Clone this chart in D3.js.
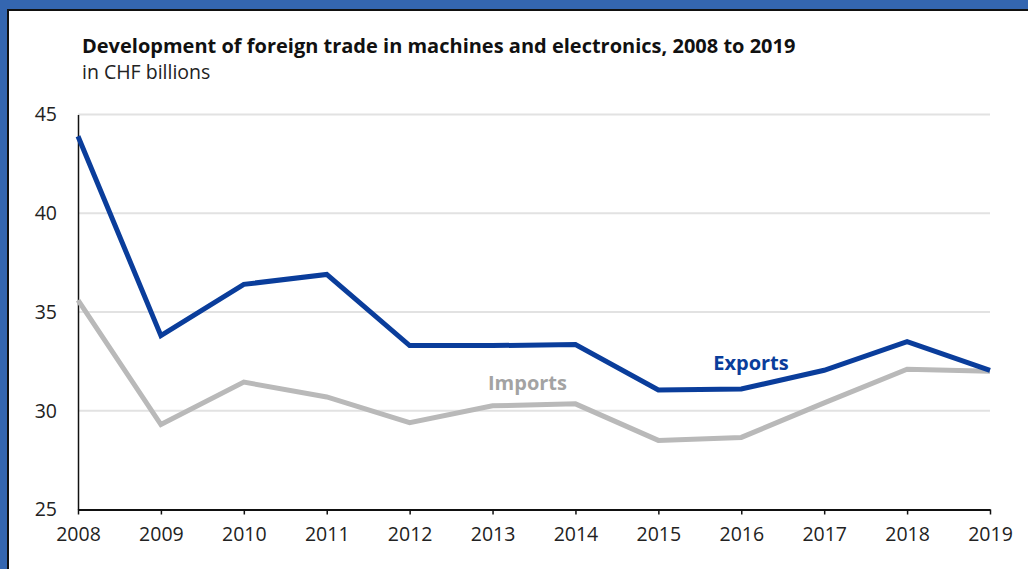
<!DOCTYPE html>
<html>
<head>
<meta charset="utf-8">
<script src="https://cdn.jsdelivr.net/npm/d3@7"></script>
<style>
  html, body { margin: 0; padding: 0; background: #fff; }
  svg { display: block; }
  text { font-family: "Open Sans", "Noto Sans", sans-serif; }
</style>
</head>
<body>
<svg id="chart" width="1028" height="569"></svg>
<script>
// Foreign trade in machines and electronics, CHF billions
const years = [2008, 2009, 2010, 2011, 2012, 2013, 2014, 2015, 2016, 2017, 2018, 2019];
const exportsValues = [43.9, 33.8, 36.4, 36.9, 33.3, 33.3, 33.35, 31.05, 31.1, 32.05, 33.5, 32.05];
const importsValues = [35.6, 29.3, 31.45, 30.7, 29.4, 30.25, 30.35, 28.5, 28.65, 30.4, 32.1, 32.0];
const yTicks = [25, 30, 35, 40, 45];
const titleText = "Development of foreign trade in machines and electronics, 2008 to 2019";
const subtitleText = "in CHF billions";

const svg = d3.select("#chart");
const W = 1028, H = 569;
const FONT = "\"Open Sans\", \"Noto Sans\", sans-serif";

// Frame: blue band with a thin dark inner edge
svg.append("rect").attr("x", 0).attr("y", 0).attr("width", W).attr("height", H).attr("fill", "#3466b0");
svg.append("rect").attr("x", 7).attr("y", 9).attr("width", W).attr("height", H).attr("fill", "#111");
svg.append("rect").attr("x", 9).attr("y", 11).attr("width", W).attr("height", H).attr("fill", "#fff");

const x = d3.scaleLinear().domain([2008, 2019]).range([78, 990]);
const y = d3.scaleLinear().domain([25, 45]).range([509.5, 114.5]);

// Title block
svg.append("text").attr("x", 82).attr("y", 53)
  .attr("font-size", 20).attr("font-weight", 700).attr("fill", "#111")
  .text(titleText);
svg.append("text").attr("x", 82).attr("y", 79)
  .attr("font-size", 19.5).attr("fill", "#222")
  .text(subtitleText);

// Horizontal gridlines
svg.append("g").selectAll("line").data(yTicks.filter(d => d > 25)).join("line")
  .attr("x1", 78).attr("x2", 990)
  .attr("y1", d => y(d)).attr("y2", d => y(d))
  .attr("stroke", "#e2e2e2").attr("stroke-width", 2);

// Y axis
const yAxis = svg.append("g").attr("transform", "translate(78,0)")
  .call(d3.axisLeft(y).tickValues(yTicks).tickSize(0).tickPadding(21));
yAxis.select(".domain").attr("stroke", "#111").attr("stroke-width", 1.5);
yAxis.selectAll("text").attr("font-size", 19.5).attr("fill", "#222").attr("font-family", FONT);

// X axis
const xAxis = svg.append("g").attr("transform", `translate(0,${y(25)})`)
  .call(d3.axisBottom(x).tickValues(years).tickFormat(d3.format("d")).tickSize(5).tickSizeOuter(0).tickPadding(13));
xAxis.select(".domain").attr("stroke", "#111").attr("stroke-width", 2);
xAxis.selectAll(".tick line").attr("stroke", "#111").attr("stroke-width", 1.5);
xAxis.selectAll("text").attr("font-size", 19.5).attr("fill", "#222").attr("font-family", FONT);

// Series lines
const line = d3.line().x((d, i) => x(years[i])).y(d => y(d));
svg.append("path").datum(importsValues)
  .attr("d", line).attr("fill", "none")
  .attr("stroke", "#b9b9b9").attr("stroke-width", 5).attr("stroke-linejoin", "miter");
svg.append("path").datum(exportsValues)
  .attr("d", line).attr("fill", "none")
  .attr("stroke", "#0a3d9b").attr("stroke-width", 5).attr("stroke-linejoin", "miter");

// Direct labels
svg.append("text").attr("x", 751).attr("y", 370).attr("text-anchor", "middle")
  .attr("font-size", 20).attr("font-weight", 700).attr("fill", "#0a3d9b").text("Exports");
svg.append("text").attr("x", 527.5).attr("y", 390).attr("text-anchor", "middle")
  .attr("font-size", 20).attr("font-weight", 700).attr("fill", "#a3a3a3").text("Imports");
</script>
</body>
</html>
